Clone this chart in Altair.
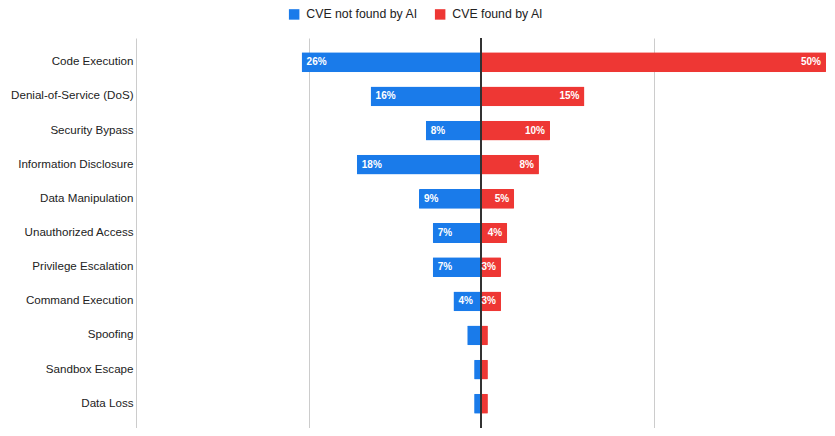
import altair as alt
import pandas as pd

categories = [
    "Code Execution",
    "Denial-of-Service (DoS)",
    "Security Bypass",
    "Information Disclosure",
    "Data Manipulation",
    "Unauthorized Access",
    "Privilege Escalation",
    "Command Execution",
    "Spoofing",
    "Sandbox Escape",
    "Data Loss",
]
not_found = [26, 16, 8, 18, 9, 7, 7, 4, 2, 1, 1]
found = [50, 15, 10, 8.4, 4.8, 3.8, 2.9, 2.9, 1, 1, 1]
series = ["CVE not found by AI", "CVE found by AI"]
colors = ["#1a7bea", "#ee3734"]

rows = []
for cat, nf, f in zip(categories, not_found, found):
    rows.append({"category": cat, "series": series[0], "value": -nf, "label": f"{round(nf)}%", "show": nf >= 2.5})
    rows.append({"category": cat, "series": series[1], "value": f, "label": f"{round(f)}%", "show": f >= 2.5})
df = pd.DataFrame(rows)

y_enc = alt.Y(
    "category:N",
    sort=categories,
    title=None,
    scale=alt.Scale(paddingInner=0.42, paddingOuter=0.42),
    axis=alt.Axis(
        labelFont="Liberation Sans",
        labelFontSize=11.6,
        labelColor="#222222",
        labelPadding=3,
        ticks=False,
        domain=False,
        grid=False,
    ),
)
x_scale = alt.Scale(domain=[-50, 50], nice=False)

bars = alt.Chart(df).mark_bar(cornerRadius=1).encode(
    y=y_enc,
    x=alt.X(
        "value:Q",
        scale=x_scale,
        title=None,
        axis=alt.Axis(
            values=[-50, -25, 0, 25, 50],
            labels=False,
            ticks=False,
            domain=False,
            grid=True,
            gridColor="#cccccc",
        ),
    ),
    color=alt.Color(
        "series:N",
        scale=alt.Scale(domain=series, range=colors),
        legend=alt.Legend(
            title=None,
            orient="none",
            direction="horizontal",
            legendX=152,
            legendY=-30,
            symbolType="square",
            symbolSize=110,
            symbolStrokeWidth=0,
            labelFont="Liberation Sans",
            labelFontSize=12.3,
            labelColor="#222222",
            labelOffset=6,
            columnPadding=16,
        ),
    ),
)

zero = alt.Chart(df).mark_rule(color="#333333", strokeWidth=1).encode(x=alt.datum(0, scale=x_scale))

labels_left = alt.Chart(df).transform_filter(
    (alt.datum.series == series[0]) & alt.datum.show
).mark_text(align="left", dx=5, color="white", fontWeight="bold", fontSize=10, font="Liberation Sans").encode(
    y=alt.Y("category:N", sort=categories),
    x=alt.X("value:Q", scale=x_scale),
    text="label:N",
)

labels_right = alt.Chart(df).transform_filter(
    (alt.datum.series == series[1]) & alt.datum.show
).mark_text(align="right", dx=-5, color="white", fontWeight="bold", fontSize=10, font="Liberation Sans").encode(
    y=alt.Y("category:N", sort=categories),
    x=alt.X("value:Q", scale=x_scale),
    text="label:N",
)

chart = (
    alt.layer(bars, zero, labels_left, labels_right)
    .properties(
        width=690,
        height=390,
        autosize=alt.AutoSizeParams(type="none"),
        padding={"left": 128, "top": 30, "right": 0, "bottom": 0},
    )
    .configure_view(strokeWidth=0)
)

chart.save("out.html", embed_options={"renderer": "svg", "actions": False})
